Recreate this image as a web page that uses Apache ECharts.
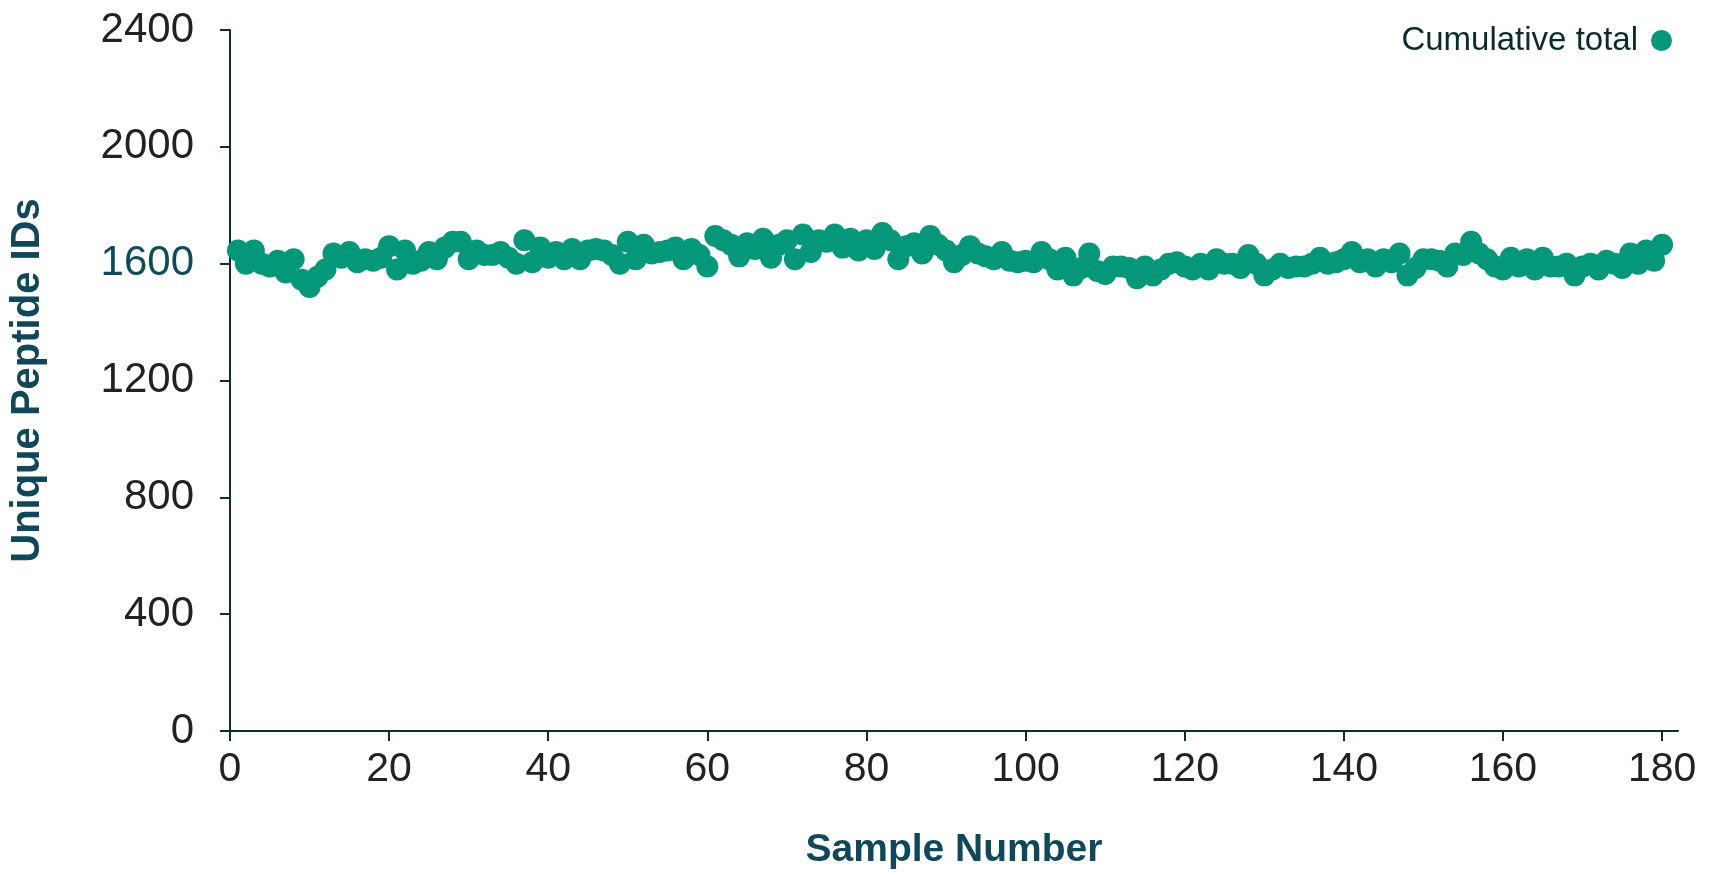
<!DOCTYPE html>
<html>
<head>
<meta charset="utf-8">
<script src="https://cdn.jsdelivr.net/npm/echarts@6/dist/echarts.min.js"></script>
<style>
  html, body { margin: 0; padding: 0; background: #ffffff; }
  #chart { width: 1713px; height: 875px; }
</style>
</head>
<body>
<div id="chart"></div>
<script>
// Sample numbers 1..180 and cumulative unique peptide IDs
const sampleValues = [
  1645, 1600, 1645, 1600, 1590, 1610, 1570, 1615, 1545, 1520,
  1555, 1580, 1635, 1620, 1640, 1605, 1615, 1610, 1620, 1660,
  1580, 1645, 1600, 1610, 1640, 1615, 1655, 1675, 1675, 1615,
  1645, 1630, 1630, 1640, 1620, 1600, 1680, 1605, 1655, 1620,
  1640, 1615, 1650, 1615, 1645, 1650, 1645, 1630, 1600, 1675,
  1615, 1665, 1635, 1640, 1645, 1655, 1615, 1650, 1630, 1590,
  1695, 1680, 1665, 1625, 1670, 1650, 1685, 1620, 1665, 1680,
  1615, 1700, 1640, 1680, 1675, 1700, 1655, 1685, 1645, 1680,
  1650, 1705, 1680, 1615, 1660, 1670, 1635, 1695, 1665, 1645,
  1605, 1630, 1660, 1635, 1625, 1615, 1640, 1610, 1605, 1610,
  1605, 1640, 1615, 1580, 1620, 1560, 1585, 1635, 1575, 1565,
  1590, 1590, 1585, 1550, 1590, 1560, 1580, 1600, 1605, 1590,
  1580, 1600, 1580, 1615, 1600, 1600, 1585, 1630, 1600, 1560,
  1580, 1600, 1585, 1590, 1590, 1600, 1620, 1600, 1605, 1615,
  1640, 1605, 1615, 1590, 1615, 1605, 1635, 1560, 1585, 1615,
  1615, 1610, 1590, 1635, 1630, 1675, 1635, 1615, 1590, 1580,
  1620, 1590, 1615, 1580, 1620, 1590, 1590, 1600, 1560, 1590,
  1600, 1580, 1610, 1600, 1585, 1635, 1600, 1645, 1610, 1665
];
const sampleNumbers = sampleValues.map((v, i) => i + 1);
const xTicks = [0, 20, 40, 60, 80, 100, 120, 140, 160, 180];
const yTicks = [0, 400, 800, 1200, 1600, 2000, 2400];
const seriesName = 'Cumulative total';
const xTitle = 'Sample Number';
const yTitle = 'Unique Peptide IDs';

const points = sampleNumbers.map((x, i) => [x, sampleValues[i]]);

const chart = echarts.init(document.getElementById('chart'), null, { renderer: 'canvas' });
const FONT = '"Liberation Sans", Arial, Helvetica, sans-serif';
const AXIS_COLOR = '#0b2f2f';
const TITLE_COLOR = '#10485a';
const POINT_COLOR = '#05977a';

chart.setOption({
  animation: false,
  backgroundColor: '#ffffff',
  grid: { left: 227, right: 35, top: 30, bottom: 140 },
  legend: {
    data: [seriesName],
    right: 36,
    top: 19,
    align: 'right',
    icon: 'circle',
    itemWidth: 21,
    itemHeight: 21,
    textStyle: { fontFamily: FONT, fontSize: 33, color: '#0b2b2b', padding: [0, 8, 0, 0] }
  },
  xAxis: {
    type: 'value',
    min: 0,
    max: 182,
    name: xTitle,
    nameLocation: 'middle',
    nameGap: 100,
    nameTextStyle: { fontFamily: FONT, fontSize: 39, fontWeight: 'bold', color: TITLE_COLOR },
    axisLine: { show: true, lineStyle: { color: AXIS_COLOR, width: 2 } },
    axisTick: { show: true, length: 10, lineStyle: { color: AXIS_COLOR, width: 2 }, customValues: xTicks },
    axisLabel: { fontFamily: FONT, fontSize: 41, color: '#222222', margin: 18, customValues: xTicks,
      formatter: function (v) { return String(v); } },
    splitLine: { show: false }
  },
  yAxis: {
    type: 'value',
    min: 0,
    max: 2400,
    interval: 400,
    name: yTitle,
    nameLocation: 'middle',
    nameGap: 182,
    nameRotate: 90,
    nameTextStyle: { fontFamily: FONT, fontSize: 40, fontWeight: 'bold', color: TITLE_COLOR },
    axisLine: { show: true, lineStyle: { color: AXIS_COLOR, width: 2 } },
    axisTick: { show: true, length: 10, lineStyle: { color: AXIS_COLOR, width: 2 }, customValues: yTicks },
    axisLabel: {
      fontFamily: FONT, fontSize: 42, margin: 36, customValues: yTicks,
      formatter: function (v) { return String(v); },
      color: function (value) { return Number(value) === 1600 ? '#0f4c5a' : '#222222'; }
    },
    splitLine: { show: false }
  },
  series: [{
    name: seriesName,
    type: 'scatter',
    data: points,
    symbol: 'circle',
    symbolSize: 22,
    itemStyle: { color: POINT_COLOR, opacity: 1 }
  }]
});
</script>
</body>
</html>
